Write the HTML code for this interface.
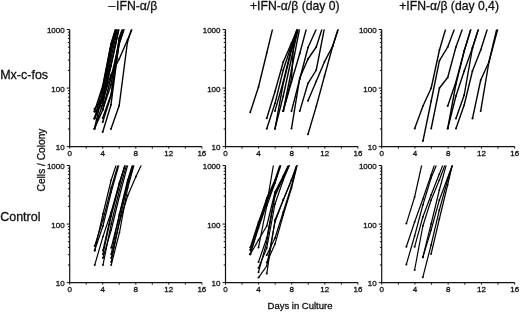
<!DOCTYPE html><html><head><meta charset="utf-8"><style>html,body{margin:0;padding:0;background:#fff;width:520px;height:312px;overflow:hidden}svg{display:block}text{font-family:"Liberation Sans",sans-serif;fill:#111;stroke:#111;stroke-width:0.3px}svg{will-change:transform}</style></head><body>
<svg width="520" height="312" viewBox="0 0 520 312">
<path d="M69.70 29.50V146.60H201.86" stroke="#111" stroke-width="1.2" fill="none"/>
<path d="M66.70 146.60H69.70M67.90 128.97H69.70M67.90 118.66H69.70M67.90 111.35H69.70M67.90 105.68H69.70M67.90 101.04H69.70M67.90 97.12H69.70M67.90 93.72H69.70M67.90 90.73H69.70M66.70 88.05H69.70M67.90 70.42H69.70M67.90 60.11H69.70M67.90 52.80H69.70M67.90 47.13H69.70M67.90 42.49H69.70M67.90 38.57H69.70M67.90 35.17H69.70M67.90 32.18H69.70M66.70 29.50H69.70M69.70 146.60V148.60M86.22 146.60V148.60M102.74 146.60V148.60M119.26 146.60V148.60M135.78 146.60V148.60M152.30 146.60V148.60M168.82 146.60V148.60M185.34 146.60V148.60M201.86 146.60V148.60" stroke="#111" stroke-width="1" fill="none"/>
<text x="64.70" y="150.10" font-size="8" text-anchor="end">10</text>
<text x="64.70" y="91.55" font-size="8" text-anchor="end">100</text>
<text x="64.70" y="33.00" font-size="8" text-anchor="end">1000</text>
<text x="69.70" y="156.20" font-size="8" text-anchor="middle">0</text>
<text x="102.74" y="156.20" font-size="8" text-anchor="middle">4</text>
<text x="135.78" y="156.20" font-size="8" text-anchor="middle">8</text>
<text x="168.82" y="156.20" font-size="8" text-anchor="middle">12</text>
<text x="201.86" y="156.20" font-size="8" text-anchor="middle">16</text>
<clipPath id="cp00"><rect x="67.70" y="29.50" width="136.16" height="121.10"/></clipPath>
<g clip-path="url(#cp00)" stroke="#000" stroke-width="1.4" fill="none" stroke-linejoin="round" stroke-linecap="butt">
<path d="M94.45 128.80L102.70 92.00L110.95 45.00L119.20 17.00"/>
<path d="M94.45 118.50L102.70 88.00L110.95 46.00L119.20 18.00"/>
<path d="M94.45 111.50L102.70 86.00L110.95 44.00L119.20 17.00"/>
<path d="M94.45 109.00L102.70 98.00L110.95 52.00L119.20 20.00"/>
<path d="M94.45 111.50L102.70 105.00L110.95 58.00L119.20 22.00"/>
<path d="M94.45 118.50L102.70 100.00L110.95 50.00L119.20 19.00"/>
<path d="M102.70 132.00L110.95 105.00L119.20 42.00L127.45 18.00"/>
<path d="M102.70 117.90L110.95 95.00L119.20 44.00L127.45 19.00"/>
<path d="M102.70 109.50L110.95 85.00L119.20 40.00L127.45 12.00"/>
<path d="M94.45 128.80L102.70 110.00L110.95 78.00L119.20 43.00L127.45 19.00"/>
<path d="M110.95 129.00L119.20 105.50L127.45 42.00L135.70 17.00"/>
<path d="M102.70 100.00L110.95 75.00L119.20 59.00L127.45 40.00L135.70 20.00"/>
<path d="M94.45 118.50L102.70 97.00L110.95 65.00L119.20 27.00L127.45 0.00"/>
<path d="M94.45 128.80L102.70 104.00L110.95 66.00L119.20 28.00"/>
<path d="M102.70 122.00L110.95 96.00L119.20 38.00L127.45 14.00"/>
</g>
<g fill="#000">
<circle cx="94.45" cy="128.80" r="1.0"/>
<circle cx="102.70" cy="92.00" r="0.9"/>
<circle cx="110.95" cy="45.00" r="0.9"/>
<circle cx="94.45" cy="118.50" r="1.0"/>
<circle cx="102.70" cy="88.00" r="0.9"/>
<circle cx="110.95" cy="46.00" r="0.9"/>
<circle cx="94.45" cy="111.50" r="1.0"/>
<circle cx="102.70" cy="86.00" r="0.9"/>
<circle cx="110.95" cy="44.00" r="0.9"/>
<circle cx="94.45" cy="109.00" r="1.0"/>
<circle cx="102.70" cy="98.00" r="0.9"/>
<circle cx="110.95" cy="52.00" r="0.9"/>
<circle cx="94.45" cy="111.50" r="1.0"/>
<circle cx="102.70" cy="105.00" r="0.9"/>
<circle cx="110.95" cy="58.00" r="0.9"/>
<circle cx="94.45" cy="118.50" r="1.0"/>
<circle cx="102.70" cy="100.00" r="0.9"/>
<circle cx="110.95" cy="50.00" r="0.9"/>
<circle cx="102.70" cy="132.00" r="1.0"/>
<circle cx="110.95" cy="105.00" r="0.9"/>
<circle cx="119.20" cy="42.00" r="0.9"/>
<circle cx="102.70" cy="117.90" r="1.0"/>
<circle cx="110.95" cy="95.00" r="0.9"/>
<circle cx="119.20" cy="44.00" r="0.9"/>
<circle cx="102.70" cy="109.50" r="1.0"/>
<circle cx="110.95" cy="85.00" r="0.9"/>
<circle cx="119.20" cy="40.00" r="0.9"/>
<circle cx="94.45" cy="128.80" r="1.0"/>
<circle cx="102.70" cy="110.00" r="0.9"/>
<circle cx="110.95" cy="78.00" r="0.9"/>
<circle cx="119.20" cy="43.00" r="0.9"/>
<circle cx="110.95" cy="129.00" r="1.0"/>
<circle cx="119.20" cy="105.50" r="0.9"/>
<circle cx="127.45" cy="42.00" r="0.9"/>
<circle cx="102.70" cy="100.00" r="1.0"/>
<circle cx="110.95" cy="75.00" r="0.9"/>
<circle cx="119.20" cy="59.00" r="0.9"/>
<circle cx="127.45" cy="40.00" r="0.9"/>
<circle cx="94.45" cy="118.50" r="1.0"/>
<circle cx="102.70" cy="97.00" r="0.9"/>
<circle cx="110.95" cy="65.00" r="0.9"/>
<circle cx="94.45" cy="128.80" r="1.0"/>
<circle cx="102.70" cy="104.00" r="0.9"/>
<circle cx="110.95" cy="66.00" r="0.9"/>
<circle cx="102.70" cy="122.00" r="1.0"/>
<circle cx="110.95" cy="96.00" r="0.9"/>
<circle cx="119.20" cy="38.00" r="0.9"/>
</g>
<path d="M225.50 29.50V146.60H357.90" stroke="#111" stroke-width="1.2" fill="none"/>
<path d="M222.50 146.60H225.50M223.70 128.97H225.50M223.70 118.66H225.50M223.70 111.35H225.50M223.70 105.68H225.50M223.70 101.04H225.50M223.70 97.12H225.50M223.70 93.72H225.50M223.70 90.73H225.50M222.50 88.05H225.50M223.70 70.42H225.50M223.70 60.11H225.50M223.70 52.80H225.50M223.70 47.13H225.50M223.70 42.49H225.50M223.70 38.57H225.50M223.70 35.17H225.50M223.70 32.18H225.50M222.50 29.50H225.50M225.50 146.60V148.60M242.05 146.60V148.60M258.60 146.60V148.60M275.15 146.60V148.60M291.70 146.60V148.60M308.25 146.60V148.60M324.80 146.60V148.60M341.35 146.60V148.60M357.90 146.60V148.60" stroke="#111" stroke-width="1" fill="none"/>
<text x="220.50" y="150.10" font-size="8" text-anchor="end">10</text>
<text x="220.50" y="91.55" font-size="8" text-anchor="end">100</text>
<text x="220.50" y="33.00" font-size="8" text-anchor="end">1000</text>
<text x="225.50" y="156.20" font-size="8" text-anchor="middle">0</text>
<text x="258.60" y="156.20" font-size="8" text-anchor="middle">4</text>
<text x="291.70" y="156.20" font-size="8" text-anchor="middle">8</text>
<text x="324.80" y="156.20" font-size="8" text-anchor="middle">12</text>
<text x="357.90" y="156.20" font-size="8" text-anchor="middle">16</text>
<clipPath id="cp10"><rect x="223.50" y="29.50" width="136.40" height="121.10"/></clipPath>
<g clip-path="url(#cp10)" stroke="#000" stroke-width="1.4" fill="none" stroke-linejoin="round" stroke-linecap="butt">
<path d="M250.25 112.30L258.50 87.00L266.75 53.00L275.00 19.00"/>
<path d="M266.75 118.30L275.00 91.50L283.25 62.00L291.50 43.00L299.75 24.00"/>
<path d="M266.75 128.70L275.00 103.30L283.25 70.00L291.50 45.00L299.75 22.00"/>
<path d="M275.00 128.70L283.25 83.30L291.50 50.00L299.75 22.00"/>
<path d="M275.00 110.90L283.25 82.00L291.50 48.00L299.75 20.00"/>
<path d="M283.25 110.90L291.50 81.80L299.75 53.50L308.00 22.80"/>
<path d="M283.25 110.90L291.50 79.00L293.40 46.50L297.20 29.30L298.50 23.00"/>
<path d="M275.00 128.70L283.25 96.00L291.50 58.00L299.75 22.00"/>
<path d="M283.25 110.90L291.50 70.00L299.75 28.00"/>
<path d="M291.50 111.10L299.75 79.00L308.00 47.50L316.25 29.30L324.50 11.00"/>
<path d="M291.50 128.40L299.75 78.00L308.00 59.00L316.25 47.00L324.50 21.20"/>
<path d="M299.75 111.10L308.00 83.30L316.25 70.00L324.50 28.00L332.75 -10.00"/>
<path d="M308.00 100.70L316.25 81.20L324.50 61.70L332.75 46.00L341.00 20.30"/>
<path d="M308.00 134.20L316.25 106.40L324.50 76.00L332.75 46.00L341.00 20.30"/>
</g>
<g fill="#000">
<circle cx="250.25" cy="112.30" r="1.0"/>
<circle cx="258.50" cy="87.00" r="0.9"/>
<circle cx="266.75" cy="53.00" r="0.9"/>
<circle cx="266.75" cy="118.30" r="1.0"/>
<circle cx="275.00" cy="91.50" r="0.9"/>
<circle cx="283.25" cy="62.00" r="0.9"/>
<circle cx="291.50" cy="43.00" r="0.9"/>
<circle cx="266.75" cy="128.70" r="1.0"/>
<circle cx="275.00" cy="103.30" r="0.9"/>
<circle cx="283.25" cy="70.00" r="0.9"/>
<circle cx="291.50" cy="45.00" r="0.9"/>
<circle cx="275.00" cy="128.70" r="1.0"/>
<circle cx="283.25" cy="83.30" r="0.9"/>
<circle cx="291.50" cy="50.00" r="0.9"/>
<circle cx="275.00" cy="110.90" r="1.0"/>
<circle cx="283.25" cy="82.00" r="0.9"/>
<circle cx="291.50" cy="48.00" r="0.9"/>
<circle cx="283.25" cy="110.90" r="1.0"/>
<circle cx="291.50" cy="81.80" r="0.9"/>
<circle cx="299.75" cy="53.50" r="0.9"/>
<circle cx="283.25" cy="110.90" r="1.0"/>
<circle cx="291.50" cy="79.00" r="0.9"/>
<circle cx="293.40" cy="46.50" r="0.9"/>
<circle cx="275.00" cy="128.70" r="1.0"/>
<circle cx="283.25" cy="96.00" r="0.9"/>
<circle cx="291.50" cy="58.00" r="0.9"/>
<circle cx="283.25" cy="110.90" r="1.0"/>
<circle cx="291.50" cy="70.00" r="0.9"/>
<circle cx="291.50" cy="111.10" r="1.0"/>
<circle cx="299.75" cy="79.00" r="0.9"/>
<circle cx="308.00" cy="47.50" r="0.9"/>
<circle cx="291.50" cy="128.40" r="1.0"/>
<circle cx="299.75" cy="78.00" r="0.9"/>
<circle cx="308.00" cy="59.00" r="0.9"/>
<circle cx="316.25" cy="47.00" r="0.9"/>
<circle cx="299.75" cy="111.10" r="1.0"/>
<circle cx="308.00" cy="83.30" r="0.9"/>
<circle cx="316.25" cy="70.00" r="0.9"/>
<circle cx="308.00" cy="100.70" r="1.0"/>
<circle cx="316.25" cy="81.20" r="0.9"/>
<circle cx="324.50" cy="61.70" r="0.9"/>
<circle cx="332.75" cy="46.00" r="0.9"/>
<circle cx="308.00" cy="134.20" r="1.0"/>
<circle cx="316.25" cy="106.40" r="0.9"/>
<circle cx="324.50" cy="76.00" r="0.9"/>
<circle cx="332.75" cy="46.00" r="0.9"/>
</g>
<path d="M381.70 29.50V146.60H514.66" stroke="#111" stroke-width="1.2" fill="none"/>
<path d="M378.70 146.60H381.70M379.90 128.97H381.70M379.90 118.66H381.70M379.90 111.35H381.70M379.90 105.68H381.70M379.90 101.04H381.70M379.90 97.12H381.70M379.90 93.72H381.70M379.90 90.73H381.70M378.70 88.05H381.70M379.90 70.42H381.70M379.90 60.11H381.70M379.90 52.80H381.70M379.90 47.13H381.70M379.90 42.49H381.70M379.90 38.57H381.70M379.90 35.17H381.70M379.90 32.18H381.70M378.70 29.50H381.70M381.70 146.60V148.60M398.32 146.60V148.60M414.94 146.60V148.60M431.56 146.60V148.60M448.18 146.60V148.60M464.80 146.60V148.60M481.42 146.60V148.60M498.04 146.60V148.60M514.66 146.60V148.60" stroke="#111" stroke-width="1" fill="none"/>
<text x="376.70" y="150.10" font-size="8" text-anchor="end">10</text>
<text x="376.70" y="91.55" font-size="8" text-anchor="end">100</text>
<text x="376.70" y="33.00" font-size="8" text-anchor="end">1000</text>
<text x="381.70" y="156.20" font-size="8" text-anchor="middle">0</text>
<text x="414.94" y="156.20" font-size="8" text-anchor="middle">4</text>
<text x="448.18" y="156.20" font-size="8" text-anchor="middle">8</text>
<text x="481.42" y="156.20" font-size="8" text-anchor="middle">12</text>
<text x="514.66" y="156.20" font-size="8" text-anchor="middle">16</text>
<clipPath id="cp20"><rect x="379.70" y="29.50" width="136.96" height="121.10"/></clipPath>
<g clip-path="url(#cp20)" stroke="#000" stroke-width="1.4" fill="none" stroke-linejoin="round" stroke-linecap="butt">
<path d="M414.70 128.50L422.95 106.00L431.20 88.00L439.45 50.00L447.70 22.00"/>
<path d="M422.95 141.00L431.20 101.00L439.45 60.70L447.70 47.00L455.95 25.00"/>
<path d="M431.20 128.50L439.45 88.00L447.70 77.50L455.95 47.00L464.20 24.00"/>
<path d="M447.70 106.00L455.95 82.00L464.20 51.00L472.45 24.00"/>
<path d="M447.70 128.50L455.95 96.00L464.20 71.00L472.45 48.00L480.70 22.00"/>
<path d="M455.95 118.50L464.20 95.00L472.45 48.00L480.70 22.00"/>
<path d="M455.95 128.50L464.20 105.00L472.45 71.00L480.70 50.00L488.95 24.00"/>
<path d="M447.70 128.50L455.95 84.00L464.20 51.00L472.45 24.00"/>
<path d="M472.45 118.60L480.70 80.00L488.95 62.00L498.30 27.00"/>
<path d="M480.70 110.90L488.95 62.00L497.00 28.00"/>
</g>
<g fill="#000">
<circle cx="414.70" cy="128.50" r="1.0"/>
<circle cx="422.95" cy="106.00" r="0.9"/>
<circle cx="431.20" cy="88.00" r="0.9"/>
<circle cx="439.45" cy="50.00" r="0.9"/>
<circle cx="422.95" cy="141.00" r="1.0"/>
<circle cx="431.20" cy="101.00" r="0.9"/>
<circle cx="439.45" cy="60.70" r="0.9"/>
<circle cx="447.70" cy="47.00" r="0.9"/>
<circle cx="431.20" cy="128.50" r="1.0"/>
<circle cx="439.45" cy="88.00" r="0.9"/>
<circle cx="447.70" cy="77.50" r="0.9"/>
<circle cx="455.95" cy="47.00" r="0.9"/>
<circle cx="447.70" cy="106.00" r="1.0"/>
<circle cx="455.95" cy="82.00" r="0.9"/>
<circle cx="464.20" cy="51.00" r="0.9"/>
<circle cx="447.70" cy="128.50" r="1.0"/>
<circle cx="455.95" cy="96.00" r="0.9"/>
<circle cx="464.20" cy="71.00" r="0.9"/>
<circle cx="472.45" cy="48.00" r="0.9"/>
<circle cx="455.95" cy="118.50" r="1.0"/>
<circle cx="464.20" cy="95.00" r="0.9"/>
<circle cx="472.45" cy="48.00" r="0.9"/>
<circle cx="455.95" cy="128.50" r="1.0"/>
<circle cx="464.20" cy="105.00" r="0.9"/>
<circle cx="472.45" cy="71.00" r="0.9"/>
<circle cx="480.70" cy="50.00" r="0.9"/>
<circle cx="447.70" cy="128.50" r="1.0"/>
<circle cx="455.95" cy="84.00" r="0.9"/>
<circle cx="464.20" cy="51.00" r="0.9"/>
<circle cx="472.45" cy="118.60" r="1.0"/>
<circle cx="480.70" cy="80.00" r="0.9"/>
<circle cx="488.95" cy="62.00" r="0.9"/>
<circle cx="480.70" cy="110.90" r="1.0"/>
<circle cx="488.95" cy="62.00" r="0.9"/>
</g>
<path d="M69.70 165.50V282.60H201.86" stroke="#111" stroke-width="1.2" fill="none"/>
<path d="M66.70 282.60H69.70M67.90 264.97H69.70M67.90 254.66H69.70M67.90 247.35H69.70M67.90 241.68H69.70M67.90 237.04H69.70M67.90 233.12H69.70M67.90 229.72H69.70M67.90 226.73H69.70M66.70 224.05H69.70M67.90 206.42H69.70M67.90 196.11H69.70M67.90 188.80H69.70M67.90 183.13H69.70M67.90 178.49H69.70M67.90 174.57H69.70M67.90 171.17H69.70M67.90 168.18H69.70M66.70 165.50H69.70M69.70 282.60V284.60M86.22 282.60V284.60M102.74 282.60V284.60M119.26 282.60V284.60M135.78 282.60V284.60M152.30 282.60V284.60M168.82 282.60V284.60M185.34 282.60V284.60M201.86 282.60V284.60" stroke="#111" stroke-width="1" fill="none"/>
<text x="64.70" y="286.10" font-size="8" text-anchor="end">10</text>
<text x="64.70" y="227.55" font-size="8" text-anchor="end">100</text>
<text x="64.70" y="169.00" font-size="8" text-anchor="end">1000</text>
<text x="69.70" y="292.20" font-size="8" text-anchor="middle">0</text>
<text x="102.74" y="292.20" font-size="8" text-anchor="middle">4</text>
<text x="135.78" y="292.20" font-size="8" text-anchor="middle">8</text>
<text x="168.82" y="292.20" font-size="8" text-anchor="middle">12</text>
<text x="201.86" y="292.20" font-size="8" text-anchor="middle">16</text>
<clipPath id="cp01"><rect x="67.70" y="165.50" width="136.16" height="121.10"/></clipPath>
<g clip-path="url(#cp01)" stroke="#000" stroke-width="1.2" fill="none" stroke-linejoin="round" stroke-linecap="butt">
<path d="M94.70 250.40L102.95 214.00L111.20 180.00L119.45 155.00"/>
<path d="M94.70 246.00L102.95 220.00L111.20 188.00L119.45 160.00"/>
<path d="M94.70 250.40L102.95 226.00L111.20 192.00L119.45 163.00"/>
<path d="M94.70 265.10L102.95 236.60L111.20 212.00L119.45 183.00L127.70 156.00"/>
<path d="M102.95 250.40L111.20 214.00L119.45 183.00L127.70 156.00"/>
<path d="M102.95 254.20L111.20 216.00L119.45 184.00L127.70 157.00"/>
<path d="M102.95 265.10L111.20 224.00L119.45 190.00L127.70 161.00"/>
<path d="M102.95 258.00L111.20 230.00L119.45 196.00L127.70 165.00"/>
<path d="M111.20 258.10L119.45 221.00L127.70 184.00L135.95 157.00"/>
<path d="M111.20 254.20L119.45 214.00L127.70 180.00L135.95 154.00"/>
<path d="M111.20 265.10L119.45 232.60L127.70 188.00L135.95 158.00"/>
<path d="M111.20 247.80L119.45 215.00L127.70 182.00L135.95 155.00"/>
<path d="M111.20 262.00L119.45 222.00L127.70 195.70L135.95 176.50L144.20 159.00"/>
</g>
<g fill="#000">
<circle cx="94.70" cy="250.40" r="1.0"/>
<circle cx="102.95" cy="214.00" r="0.9"/>
<circle cx="111.20" cy="180.00" r="0.9"/>
<circle cx="94.70" cy="246.00" r="1.0"/>
<circle cx="102.95" cy="220.00" r="0.9"/>
<circle cx="111.20" cy="188.00" r="0.9"/>
<circle cx="94.70" cy="250.40" r="1.0"/>
<circle cx="102.95" cy="226.00" r="0.9"/>
<circle cx="111.20" cy="192.00" r="0.9"/>
<circle cx="94.70" cy="265.10" r="1.0"/>
<circle cx="102.95" cy="236.60" r="0.9"/>
<circle cx="111.20" cy="212.00" r="0.9"/>
<circle cx="119.45" cy="183.00" r="0.9"/>
<circle cx="102.95" cy="250.40" r="1.0"/>
<circle cx="111.20" cy="214.00" r="0.9"/>
<circle cx="119.45" cy="183.00" r="0.9"/>
<circle cx="102.95" cy="254.20" r="1.0"/>
<circle cx="111.20" cy="216.00" r="0.9"/>
<circle cx="119.45" cy="184.00" r="0.9"/>
<circle cx="102.95" cy="265.10" r="1.0"/>
<circle cx="111.20" cy="224.00" r="0.9"/>
<circle cx="119.45" cy="190.00" r="0.9"/>
<circle cx="102.95" cy="258.00" r="1.0"/>
<circle cx="111.20" cy="230.00" r="0.9"/>
<circle cx="119.45" cy="196.00" r="0.9"/>
<circle cx="111.20" cy="258.10" r="1.0"/>
<circle cx="119.45" cy="221.00" r="0.9"/>
<circle cx="127.70" cy="184.00" r="0.9"/>
<circle cx="111.20" cy="254.20" r="1.0"/>
<circle cx="119.45" cy="214.00" r="0.9"/>
<circle cx="127.70" cy="180.00" r="0.9"/>
<circle cx="111.20" cy="265.10" r="1.0"/>
<circle cx="119.45" cy="232.60" r="0.9"/>
<circle cx="127.70" cy="188.00" r="0.9"/>
<circle cx="111.20" cy="247.80" r="1.0"/>
<circle cx="119.45" cy="215.00" r="0.9"/>
<circle cx="127.70" cy="182.00" r="0.9"/>
<circle cx="111.20" cy="262.00" r="1.0"/>
<circle cx="119.45" cy="222.00" r="0.9"/>
<circle cx="127.70" cy="195.70" r="0.9"/>
<circle cx="135.95" cy="176.50" r="0.9"/>
</g>
<path d="M225.50 165.50V282.60H357.90" stroke="#111" stroke-width="1.2" fill="none"/>
<path d="M222.50 282.60H225.50M223.70 264.97H225.50M223.70 254.66H225.50M223.70 247.35H225.50M223.70 241.68H225.50M223.70 237.04H225.50M223.70 233.12H225.50M223.70 229.72H225.50M223.70 226.73H225.50M222.50 224.05H225.50M223.70 206.42H225.50M223.70 196.11H225.50M223.70 188.80H225.50M223.70 183.13H225.50M223.70 178.49H225.50M223.70 174.57H225.50M223.70 171.17H225.50M223.70 168.18H225.50M222.50 165.50H225.50M225.50 282.60V284.60M242.05 282.60V284.60M258.60 282.60V284.60M275.15 282.60V284.60M291.70 282.60V284.60M308.25 282.60V284.60M324.80 282.60V284.60M341.35 282.60V284.60M357.90 282.60V284.60" stroke="#111" stroke-width="1" fill="none"/>
<text x="220.50" y="286.10" font-size="8" text-anchor="end">10</text>
<text x="220.50" y="227.55" font-size="8" text-anchor="end">100</text>
<text x="220.50" y="169.00" font-size="8" text-anchor="end">1000</text>
<text x="225.50" y="292.20" font-size="8" text-anchor="middle">0</text>
<text x="258.60" y="292.20" font-size="8" text-anchor="middle">4</text>
<text x="291.70" y="292.20" font-size="8" text-anchor="middle">8</text>
<text x="324.80" y="292.20" font-size="8" text-anchor="middle">12</text>
<text x="357.90" y="292.20" font-size="8" text-anchor="middle">16</text>
<clipPath id="cp11"><rect x="223.50" y="165.50" width="136.40" height="121.10"/></clipPath>
<g clip-path="url(#cp11)" stroke="#000" stroke-width="1.2" fill="none" stroke-linejoin="round" stroke-linecap="butt">
<path d="M250.25 247.40L258.50 222.00L266.75 200.00L275.00 181.00L283.25 156.00"/>
<path d="M250.25 254.30L258.50 226.00L266.75 202.00L275.00 182.00L283.25 157.00"/>
<path d="M250.25 250.00L258.50 224.00L266.75 198.00L275.00 180.00L283.25 155.00"/>
<path d="M258.50 247.40L266.75 206.00L275.00 183.00L283.25 158.00"/>
<path d="M250.25 254.30L258.50 228.00L266.75 204.00L275.00 156.00"/>
<path d="M258.50 262.00L266.75 238.00L275.00 194.00L283.25 177.00L291.50 160.00"/>
<path d="M258.50 272.20L266.75 242.00L275.00 196.00L283.25 178.00L291.50 161.00"/>
<path d="M250.25 254.30L258.50 240.00L266.75 226.00L275.00 192.00L283.25 176.00L291.50 158.00"/>
<path d="M258.50 268.00L266.75 248.00L275.00 204.00L283.25 180.00L291.50 160.00"/>
<path d="M258.50 277.60L266.75 266.00L275.00 222.00L283.25 200.00L291.50 180.00L299.75 156.00"/>
<path d="M266.75 273.60L275.00 220.00L283.25 200.00L291.50 180.00L299.75 158.00"/>
<path d="M266.75 262.60L275.00 244.00L283.25 215.00L291.50 188.00L299.75 155.00"/>
<path d="M266.75 255.00L275.00 238.00L283.25 212.00L291.50 186.00L299.75 154.00"/>
</g>
<g fill="#000">
<circle cx="250.25" cy="247.40" r="1.0"/>
<circle cx="258.50" cy="222.00" r="0.9"/>
<circle cx="266.75" cy="200.00" r="0.9"/>
<circle cx="275.00" cy="181.00" r="0.9"/>
<circle cx="250.25" cy="254.30" r="1.0"/>
<circle cx="258.50" cy="226.00" r="0.9"/>
<circle cx="266.75" cy="202.00" r="0.9"/>
<circle cx="275.00" cy="182.00" r="0.9"/>
<circle cx="250.25" cy="250.00" r="1.0"/>
<circle cx="258.50" cy="224.00" r="0.9"/>
<circle cx="266.75" cy="198.00" r="0.9"/>
<circle cx="275.00" cy="180.00" r="0.9"/>
<circle cx="258.50" cy="247.40" r="1.0"/>
<circle cx="266.75" cy="206.00" r="0.9"/>
<circle cx="275.00" cy="183.00" r="0.9"/>
<circle cx="250.25" cy="254.30" r="1.0"/>
<circle cx="258.50" cy="228.00" r="0.9"/>
<circle cx="266.75" cy="204.00" r="0.9"/>
<circle cx="258.50" cy="262.00" r="1.0"/>
<circle cx="266.75" cy="238.00" r="0.9"/>
<circle cx="275.00" cy="194.00" r="0.9"/>
<circle cx="283.25" cy="177.00" r="0.9"/>
<circle cx="258.50" cy="272.20" r="1.0"/>
<circle cx="266.75" cy="242.00" r="0.9"/>
<circle cx="275.00" cy="196.00" r="0.9"/>
<circle cx="283.25" cy="178.00" r="0.9"/>
<circle cx="250.25" cy="254.30" r="1.0"/>
<circle cx="258.50" cy="240.00" r="0.9"/>
<circle cx="266.75" cy="226.00" r="0.9"/>
<circle cx="275.00" cy="192.00" r="0.9"/>
<circle cx="283.25" cy="176.00" r="0.9"/>
<circle cx="258.50" cy="268.00" r="1.0"/>
<circle cx="266.75" cy="248.00" r="0.9"/>
<circle cx="275.00" cy="204.00" r="0.9"/>
<circle cx="283.25" cy="180.00" r="0.9"/>
<circle cx="258.50" cy="277.60" r="1.0"/>
<circle cx="266.75" cy="266.00" r="0.9"/>
<circle cx="275.00" cy="222.00" r="0.9"/>
<circle cx="283.25" cy="200.00" r="0.9"/>
<circle cx="291.50" cy="180.00" r="0.9"/>
<circle cx="266.75" cy="273.60" r="1.0"/>
<circle cx="275.00" cy="220.00" r="0.9"/>
<circle cx="283.25" cy="200.00" r="0.9"/>
<circle cx="291.50" cy="180.00" r="0.9"/>
<circle cx="266.75" cy="262.60" r="1.0"/>
<circle cx="275.00" cy="244.00" r="0.9"/>
<circle cx="283.25" cy="215.00" r="0.9"/>
<circle cx="291.50" cy="188.00" r="0.9"/>
<circle cx="266.75" cy="255.00" r="1.0"/>
<circle cx="275.00" cy="238.00" r="0.9"/>
<circle cx="283.25" cy="212.00" r="0.9"/>
<circle cx="291.50" cy="186.00" r="0.9"/>
</g>
<path d="M381.70 165.50V282.60H514.66" stroke="#111" stroke-width="1.2" fill="none"/>
<path d="M378.70 282.60H381.70M379.90 264.97H381.70M379.90 254.66H381.70M379.90 247.35H381.70M379.90 241.68H381.70M379.90 237.04H381.70M379.90 233.12H381.70M379.90 229.72H381.70M379.90 226.73H381.70M378.70 224.05H381.70M379.90 206.42H381.70M379.90 196.11H381.70M379.90 188.80H381.70M379.90 183.13H381.70M379.90 178.49H381.70M379.90 174.57H381.70M379.90 171.17H381.70M379.90 168.18H381.70M378.70 165.50H381.70M381.70 282.60V284.60M398.32 282.60V284.60M414.94 282.60V284.60M431.56 282.60V284.60M448.18 282.60V284.60M464.80 282.60V284.60M481.42 282.60V284.60M498.04 282.60V284.60M514.66 282.60V284.60" stroke="#111" stroke-width="1" fill="none"/>
<text x="376.70" y="286.10" font-size="8" text-anchor="end">10</text>
<text x="376.70" y="227.55" font-size="8" text-anchor="end">100</text>
<text x="376.70" y="169.00" font-size="8" text-anchor="end">1000</text>
<text x="381.70" y="292.20" font-size="8" text-anchor="middle">0</text>
<text x="414.94" y="292.20" font-size="8" text-anchor="middle">4</text>
<text x="448.18" y="292.20" font-size="8" text-anchor="middle">8</text>
<text x="481.42" y="292.20" font-size="8" text-anchor="middle">12</text>
<text x="514.66" y="292.20" font-size="8" text-anchor="middle">16</text>
<clipPath id="cp21"><rect x="379.70" y="165.50" width="136.96" height="121.10"/></clipPath>
<g clip-path="url(#cp21)" stroke="#000" stroke-width="1.2" fill="none" stroke-linejoin="round" stroke-linecap="butt">
<path d="M406.35 223.60L414.60 197.00L422.85 160.00L431.10 125.00"/>
<path d="M406.35 246.80L414.60 222.00L422.85 199.00L431.10 175.00L439.35 150.00"/>
<path d="M406.35 264.40L414.60 236.00L422.85 205.00L431.10 178.00L439.35 158.00"/>
<path d="M414.60 246.80L422.85 217.00L431.10 195.00L439.35 174.00L447.60 153.00"/>
<path d="M414.60 270.00L422.85 226.00L431.10 200.00L439.35 180.00L447.60 158.00"/>
<path d="M422.85 257.20L431.10 230.00L439.35 200.00L447.60 178.00L455.85 155.00"/>
<path d="M422.85 257.20L431.10 224.00L439.35 190.00L447.60 160.00"/>
<path d="M422.85 277.20L431.10 245.00L439.35 210.00L447.60 180.00L455.85 155.00"/>
<path d="M431.10 254.00L439.35 219.00L447.60 185.00L455.85 150.00"/>
</g>
<g fill="#000">
<circle cx="406.35" cy="223.60" r="1.0"/>
<circle cx="414.60" cy="197.00" r="0.9"/>
<circle cx="406.35" cy="246.80" r="1.0"/>
<circle cx="414.60" cy="222.00" r="0.9"/>
<circle cx="422.85" cy="199.00" r="0.9"/>
<circle cx="431.10" cy="175.00" r="0.9"/>
<circle cx="406.35" cy="264.40" r="1.0"/>
<circle cx="414.60" cy="236.00" r="0.9"/>
<circle cx="422.85" cy="205.00" r="0.9"/>
<circle cx="431.10" cy="178.00" r="0.9"/>
<circle cx="414.60" cy="246.80" r="1.0"/>
<circle cx="422.85" cy="217.00" r="0.9"/>
<circle cx="431.10" cy="195.00" r="0.9"/>
<circle cx="439.35" cy="174.00" r="0.9"/>
<circle cx="414.60" cy="270.00" r="1.0"/>
<circle cx="422.85" cy="226.00" r="0.9"/>
<circle cx="431.10" cy="200.00" r="0.9"/>
<circle cx="439.35" cy="180.00" r="0.9"/>
<circle cx="422.85" cy="257.20" r="1.0"/>
<circle cx="431.10" cy="230.00" r="0.9"/>
<circle cx="439.35" cy="200.00" r="0.9"/>
<circle cx="447.60" cy="178.00" r="0.9"/>
<circle cx="422.85" cy="257.20" r="1.0"/>
<circle cx="431.10" cy="224.00" r="0.9"/>
<circle cx="439.35" cy="190.00" r="0.9"/>
<circle cx="422.85" cy="277.20" r="1.0"/>
<circle cx="431.10" cy="245.00" r="0.9"/>
<circle cx="439.35" cy="210.00" r="0.9"/>
<circle cx="447.60" cy="180.00" r="0.9"/>
<circle cx="431.10" cy="254.00" r="1.0"/>
<circle cx="439.35" cy="219.00" r="0.9"/>
<circle cx="447.60" cy="185.00" r="0.9"/>
</g>
<text x="132.8" y="9.5" font-size="12.2" text-anchor="middle">–<tspan dx="0.9">IFN-α/β</tspan></text>
<text x="294.8" y="9.5" font-size="12.2" text-anchor="middle">+IFN-α/β (day 0)</text>
<text x="449.1" y="9.5" font-size="12.2" text-anchor="middle">+IFN-α/β (day 0,4)</text>
<text x="0.2" y="79.3" font-size="12.5">Mx-c-fos</text>
<text x="0.2" y="221" font-size="12.5">Control</text>
<text transform="translate(44.6 160) rotate(-90)" font-size="10.2" text-anchor="middle">Cells / Colony</text>
<text x="300" y="309.2" font-size="9.5" text-anchor="middle">Days in Culture</text>
</svg></body></html>
